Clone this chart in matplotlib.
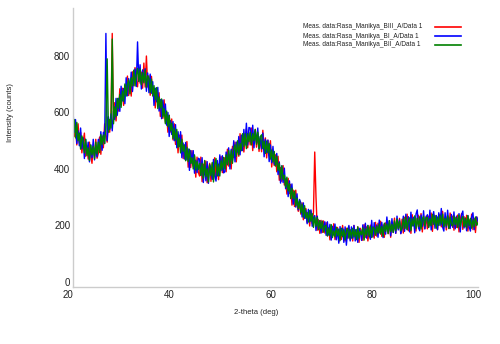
import numpy as np
import matplotlib
matplotlib.use('Agg')
from matplotlib import pyplot as plt
from matplotlib import transforms
from matplotlib.lines import Line2D

# 2-theta sampling (deg), 0.25 deg step
theta_start = 20.0
theta_step = 0.25

# intensities (counts), one row per 5 deg
red = [
    590, 515, 550, 485, 560, 492, 530, 457, 495, 527, 445, 482, 435, 495, 450, 420, 480, 447, 505, 438,
    455, 513, 452, 516, 475, 560, 520, 495, 575, 530, 590, 880, 575, 635, 570, 630, 605, 684, 628, 686,
    625, 696, 663, 729, 660, 706, 658, 744, 695, 759, 712, 691, 760, 704, 743, 686, 775, 690, 800, 690,
    730, 661, 728, 659, 680, 616, 683, 629, 670, 586, 638, 579, 645, 565, 585, 530, 590, 531, 577, 503,
    560, 487, 525, 457, 520, 477, 520, 437, 485, 434, 497, 406, 450, 405, 465, 410, 445, 371, 442, 388,
    375, 442, 355, 417, 380, 428, 351, 399, 420, 356, 418, 374, 440, 367, 415, 362, 425, 444, 387, 426,
    440, 390, 470, 410, 450, 400, 480, 440, 495, 425, 485, 445, 525, 465, 515, 460, 505, 542, 475, 527,
    485, 545, 465, 525, 540, 477, 525, 462, 510, 461, 537, 473, 510, 439, 502, 446, 500, 407, 460, 412,
    450, 390, 445, 360, 405, 356, 412, 343, 365, 311, 367, 313, 345, 272, 325, 267, 325, 272, 250, 282,
    240, 280, 220, 255, 260, 211, 247, 198, 250, 207, 248, 460, 300, 183, 220, 172, 218, 175, 216, 173,
    210, 163, 191, 149, 198, 162, 206, 150, 179, 193, 142, 186, 150, 200, 160, 145, 190, 155, 195, 150,
    185, 145, 200, 160, 150, 195, 140, 190, 177, 147, 203, 158, 195, 145, 186, 201, 158, 194, 155, 211,
    162, 208, 174, 215, 161, 202, 158, 209, 200, 171, 217, 158, 209, 180, 226, 172, 218, 189, 225, 171,
    222, 173, 229, 190, 240, 181, 217, 172, 238, 199, 229, 180, 225, 236, 191, 242, 177, 227, 188, 233,
    188, 233, 199, 244, 179, 239, 205, 235, 185, 230, 240, 195, 250, 200, 225, 184, 234, 189, 244, 199,
    233, 183, 228, 193, 237, 177, 222, 242, 186, 231, 196, 236, 180, 220, 190, 240, 185, 225, 175, 230,
    205]

blue = [
    605, 530, 575, 490, 535, 482, 545, 472, 510, 437, 505, 457, 495, 425, 485, 440, 505, 432, 480, 443,
    505, 468, 532, 466, 530, 490, 880, 500, 585, 540, 595, 535, 605, 575, 650, 590, 650, 604, 693, 641,
    685, 631, 723, 659, 720, 681, 743, 674, 725, 754, 692, 850, 710, 769, 683, 751, 715, 755, 675, 740,
    670, 736, 668, 709, 625, 686, 638, 689, 605, 646, 578, 644, 590, 630, 555, 600, 515, 571, 522, 568,
    500, 557, 475, 532, 480, 532, 440, 492, 435, 494, 432, 471, 395, 465, 420, 465, 385, 431, 387, 438,
    435, 377, 440, 352, 415, 358, 426, 349, 415, 401, 363, 434, 375, 357, 430, 377, 450, 394, 447, 386,
    390, 460, 415, 475, 400, 470, 430, 500, 425, 495, 460, 515, 450, 520, 465, 540, 485, 562, 485, 547,
    545, 490, 555, 475, 535, 492, 545, 472, 515, 471, 527, 443, 505, 459, 502, 426, 485, 422, 480, 417,
    415, 455, 380, 425, 350, 411, 352, 403, 330, 361, 302, 358, 310, 347, 275, 317, 265, 312, 255, 292,
    280, 230, 280, 225, 255, 206, 257, 213, 255, 197, 228, 235, 182, 233, 185, 217, 173, 215, 181, 213,
    165, 213, 166, 204, 148, 197, 166, 205, 149, 188, 137, 196, 165, 190, 140, 195, 130, 180, 200, 145,
    195, 155, 200, 145, 185, 140, 190, 180, 147, 202, 158, 208, 155, 200, 166, 151, 218, 159, 210, 166,
    202, 158, 219, 170, 211, 157, 203, 169, 230, 181, 217, 163, 224, 175, 211, 172, 233, 184, 220, 171,
    187, 233, 179, 240, 185, 231, 177, 247, 198, 229, 174, 240, 255, 191, 181, 237, 197, 252, 188, 228,
    238, 193, 254, 184, 229, 249, 190, 235, 185, 245, 200, 260, 195, 180, 245, 194, 254, 199, 189, 239,
    193, 248, 188, 233, 197, 242, 177, 237, 251, 191, 226, 181, 235, 195, 180, 230, 245, 185, 225, 230,
    215]

green = [
    550, 575, 510, 565, 500, 527, 470, 517, 500, 457, 505, 447, 475, 430, 485, 450, 480, 437, 495, 453,
    495, 458, 522, 486, 520, 490, 555, 790, 530, 575, 545, 860, 560, 620, 585, 650, 615, 664, 618, 676,
    640, 701, 658, 699, 715, 666, 723, 694, 750, 694, 732, 756, 710, 754, 698, 741, 705, 750, 690, 730,
    720, 671, 718, 659, 695, 646, 688, 614, 655, 616, 648, 584, 615, 560, 605, 550, 590, 536, 562, 508,
    545, 502, 540, 477, 510, 457, 505, 462, 485, 429, 477, 426, 470, 420, 440, 400, 450, 396, 427, 398,
    420, 377, 420, 367, 430, 373, 401, 354, 415, 376, 423, 354, 415, 437, 375, 417, 375, 429, 397, 441,
    400, 450, 415, 465, 415, 465, 420, 470, 485, 445, 500, 450, 490, 465, 525, 480, 525, 472, 525, 497,
    530, 485, 525, 500, 540, 487, 530, 472, 515, 521, 472, 498, 455, 499, 457, 491, 435, 467, 425, 462,
    410, 445, 395, 420, 365, 411, 362, 378, 335, 371, 322, 348, 295, 332, 295, 322, 270, 297, 260, 287,
    245, 275, 230, 270, 225, 246, 212, 253, 215, 242, 193, 230, 197, 228, 185, 217, 188, 215, 176, 198,
    200, 163, 191, 164, 203, 157, 181, 160, 194, 163, 187, 146, 190, 160, 185, 150, 180, 190, 155, 185,
    155, 190, 160, 185, 150, 195, 155, 180, 167, 192, 148, 188, 165, 200, 161, 196, 158, 194, 190, 166,
    197, 173, 204, 170, 196, 162, 208, 179, 205, 171, 217, 178, 204, 175, 216, 182, 223, 189, 215, 181,
    192, 223, 189, 230, 185, 216, 227, 182, 223, 199, 234, 190, 225, 196, 231, 187, 222, 232, 198, 228,
    228, 193, 224, 199, 239, 204, 235, 190, 230, 200, 235, 205, 240, 195, 225, 199, 234, 189, 229, 204,
    198, 233, 203, 228, 192, 237, 197, 222, 231, 196, 226, 191, 235, 200, 225, 190, 220, 195, 230, 200,
    210]

labels = ['Meas. data:Rasa_Manikya_BIII_A/Data 1',
          'Meas. data:Rasa_Manikya_BI_A/Data 1',
          'Meas. data:Rasa_Manikya_BII_A/Data 1']
colors = ['#ff0000', '#0000ff', '#008000']

x_ticks = [20, 40, 60, 80, 100]
y_ticks = [0, 200, 400, 600, 800]

two_theta = theta_start + theta_step * np.arange(len(red))

plt.rcParams['font.family'] = ['Liberation Sans', 'DejaVu Sans']

fig = plt.figure(figsize=(5, 3.44), dpi=100)
ax = fig.add_axes([73/500, 1 - 287/344, 405/500, 279/344])

for y, c in zip([red, blue, green], colors):
    ax.plot(two_theta, y, color=c, lw=1.0)

ax.set_xlim(20, 100)
ax.set_ylim(-18, 970)
ax.set_xticks(x_ticks)
ax.set_yticks(y_ticks)
ax.tick_params(length=0, labelsize=7, colors='#222222', pad=2)

for s in ['top', 'right']:
    ax.spines[s].set_visible(False)
for s in ['left', 'bottom']:
    ax.spines[s].set_color('#cccccc')
    ax.spines[s].set_linewidth(1)

# x tick labels sit a bit left of their position, as in the original
offset = transforms.ScaledTranslation(-5/100, 0, fig.dpi_scale_trans)
for lbl in ax.get_xticklabels():
    lbl.set_transform(lbl.get_transform() + offset)

fig.text(256/500, 1 - 312/344, '2-theta (deg)', fontsize=5.5, ha='center', va='center', color='#222222')
fig.text(11/500, 1 - 113/344, 'Intensity (counts)', fontsize=5.5, rotation=90,
         ha='center', va='center', color='#222222')

# legend: text on the left, line sample on the right
for i, (lab, c) in enumerate(zip(labels, colors)):
    yy = 1 - (27 + 9 * i) / 344
    fig.text(303/500, yy, lab, fontsize=4.7, ha='left', va='center', color='#222222')
    fig.add_artist(Line2D([435/500, 461/500], [yy, yy], color=c, lw=1.2,
                          transform=fig.transFigure))

fig.savefig('out.png', dpi=100)
